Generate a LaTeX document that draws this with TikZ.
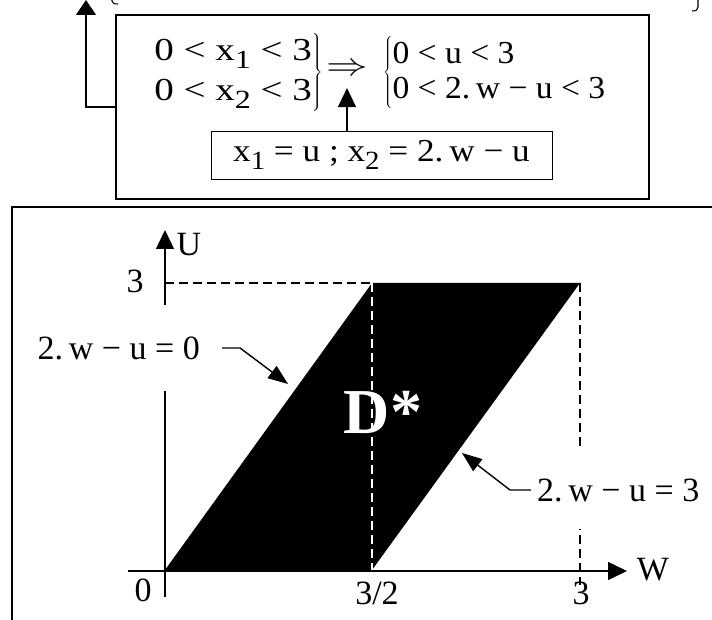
\RequirePackage{fix-cm}
\documentclass[tikz,border=0pt]{standalone}
\usepackage{fontspec}
\setmainfont{Liberation Serif}
\usepackage{graphicx}
\usetikzlibrary{positioning,arrows.meta,calc}
\newcommand{\idx}[1]{\raisebox{-0.5ex}{\scalebox{0.82}{#1}}}
\newcommand{\wide}[2]{\scalebox{#1}[1]{#2}}

\begin{document}
\begin{tikzpicture}[x=1pt,y=-1pt,
                frame/.style={draw,line width=1.6pt,minimum width=533pt,
                              minimum height=184pt},
                subbox/.style={draw,line width=0.9pt,minimum width=341pt,
                               minimum height=48pt},
                eq/.style={font=\fontsize{32}{40}\selectfont,inner sep=0pt},
                lab/.style={font=\fontsize{34}{40}\selectfont,inner sep=0pt},
                arr/.style={-{Triangle[length=19pt,width=18pt]},line width=1.4pt},
                dsh/.style={dash pattern=on 9pt off 5pt,line width=1.2pt}]
                \useasboundingbox (0,0) rectangle (712,620);
                \draw[line width=1.1pt] (112,-2) -- (112,1) .. controls (112,3) and (114,4) .. (118,4);
                \draw[line width=1.1pt] (698,0) -- (698,7) .. controls (698,10) and (696,11) .. (692,11);
                \node[frame] (sys) at (382.5,107) {};
                \node[eq,anchor=east] (sysx) at (323,73)
                     {\wide{1.22}{$\left.\begin{tabular}{@{}l@{}}0 < x\idx{1} < 3\\
                      0 < x\idx{2} < 3\end{tabular}\right\}$}};
                \node[eq] (impl) at (347,70) {\wide{1.3}{$\Rightarrow$}};
                \node[eq,anchor=west] (sysu) at (383,73)
                     {\wide{1.05}{$\left\{\begin{tabular}{@{}l@{}}0 < u < 3\\[-5pt]
                      0 < 2.\,w − u < 3\end{tabular}\right.$}};
                \node[eq,subbox] (subst) at (381.5,155)
                     {\wide{1.1}{x\idx{1} = u ; x\idx{2} = 2.\,w − u}};
                \coordinate (exit) at (86,0);
                \draw[arr,-{Triangle[length=15pt,width=20pt]}] (sys.west) -| (exit);
                \draw[arr,shorten >=12pt] (subst.north -| impl) -- (impl.south);
                \draw[line width=1.6pt] (720,207) -| (12,630);
                \coordinate (O) at (165,570);
                \coordinate (A) at (372,570);
                \coordinate (B) at (580,283);
                \coordinate (C) at (372,283);
                \fill (O) -- (A) -- (B) -- (C) -- cycle;
                \node[font=\fontsize{64}{64}\selectfont\bfseries,text=white,
                      inner sep=0pt] (dstar) at (383,412) {D*};
                \draw[dsh] (165,283) -- (C);
                \draw[dsh,white] (C) -- (A);
                \draw[dsh] (B) -- (580,585);
                \draw[arr] (128,571) -- (627,571);
                \draw[arr] (165,597) -- (165,230);
                \node[lab] (wlab)   at (653,570) {W};
                \node[lab] (ulab)   at (189,245) {U};
                \node[lab] (ut)     at (135,281) {3};
                \node[lab] (zero)   at (143,590) {0};
                \node[lab] (half)   at (377,593) {3/2};
                \node[lab] (wt)     at (581,593) {3};
                \node[lab,fill=white,minimum height=86pt,inner xsep=3pt,
                      anchor=east] (edge0) at (203,348) {2.\,w − u = 0};
                \node[lab,fill=white,minimum height=78pt,inner xsep=6pt,
                      anchor=west] (edge3) at (531,490) {2.\,w − u = 3};
                \draw[arr,-{Triangle[length=20pt,width=15pt]}]
                     ([xshift=19pt]edge0.east) -- ++(18,0) -- (288,384);
                \draw[arr,-{Triangle[length=20pt,width=15pt]}]
                     (edge3.west) -- ++(-21,0) -- (462,453);
            \end{tikzpicture}
\end{document}
